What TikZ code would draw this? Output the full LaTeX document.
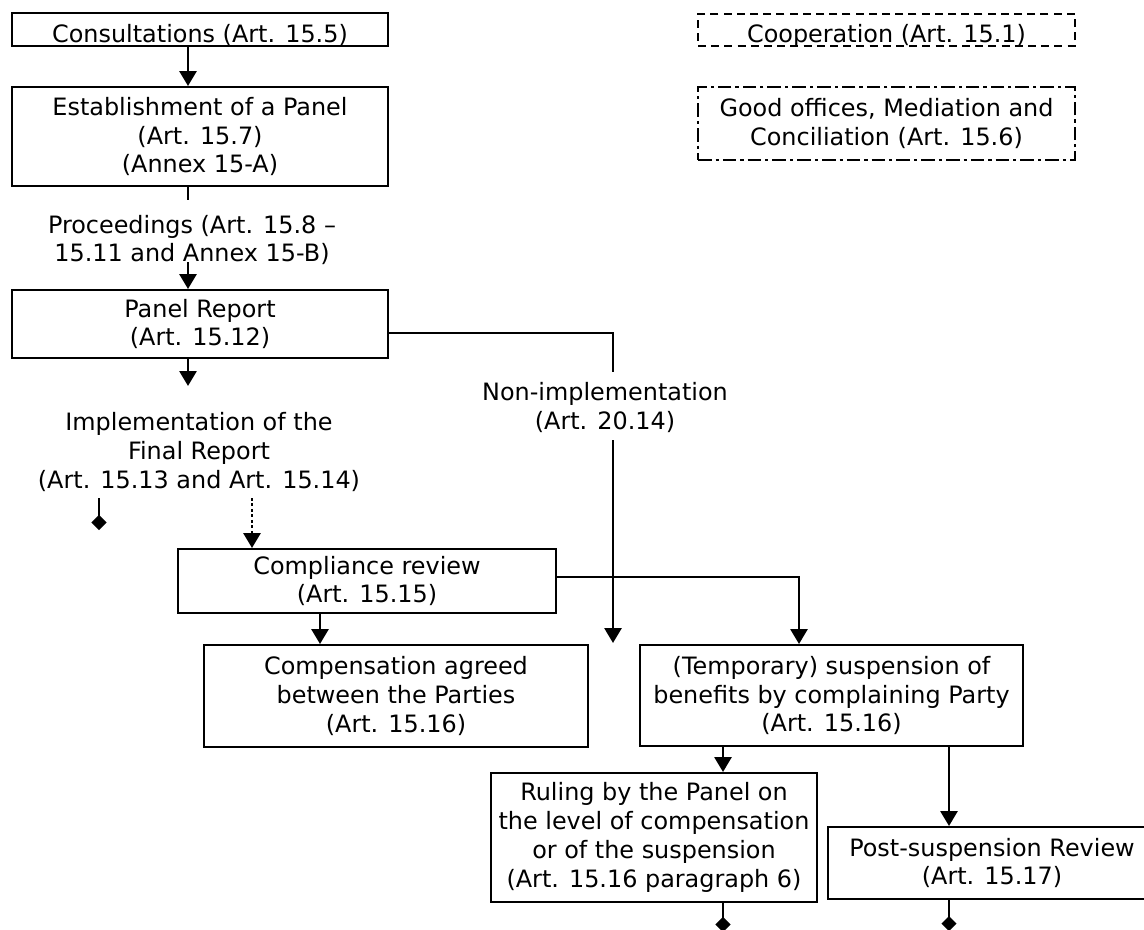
\documentclass[tikz,border=0pt]{standalone}
\usepackage{fontspec}
\setmainfont{DejaVu Sans}
\usetikzlibrary{arrows.meta}
\tikzset{>={Triangle[length=3.7mm,width=4.2mm]}}
\tikzset{
  every node/.style={font=\fontsize{17pt}{20.6pt}\selectfont},
  box/.style={draw, line width=1.4pt, align=center, inner sep=0pt},
  lbl/.style={align=center, inner sep=0pt},
  conn/.style={line width=1.9pt},
  endtip/.style={-{Diamond[length=3.8mm,width=3.8mm]}},
}

\begin{document}
\begin{tikzpicture}
      \useasboundingbox (0,0) rectangle (28.6,-23.225);

      % boxes
      \node[box, minimum width=9.4cm, text height=0.725cm, text depth=0.1cm] (consult) at (5.0,-0.7375) {Consultations (Art. 15.5)};
      \node[box, dash pattern=on 2mm off 1.3mm, minimum width=9.425cm, text height=0.7cm, text depth=0.1cm] (coop) at (22.1625,-0.75) {Cooperation (Art. 15.1)};
      \node[box, dash pattern=on 3.4mm off 1mm on 0.8mm off 1mm, minimum width=9.425cm, minimum height=1.825cm] (good) at (22.1625,-3.0875) {Good offices, Mediation and\\Conciliation (Art. 15.6)};
      \node[box, minimum width=9.4cm, minimum height=2.475cm] (estab) at (5.0,-3.4125) {Establishment of a Panel\\(Art. 15.7)\\(Annex 15-A)};
      \node[lbl] (proc) at (4.8,-6.0) {Proceedings (Art. 15.8 –\\15.11 and Annex 15-B)};
      \node[box, minimum width=9.4cm, minimum height=1.7cm] (panel) at (5.0,-8.1) {Panel Report\\(Art. 15.12)};
      \node[lbl] (impl) at (4.975,-11.3) {Implementation of the\\Final Report\\(Art. 15.13 and Art. 15.14)};
      \node[lbl] (nonimp) at (15.125,-10.1875) {Non-implementation\\(Art. 20.14)};
      \node[box, minimum width=9.45cm, minimum height=1.6cm] (compl) at (9.175,-14.525) {Compliance review\\(Art. 15.15)};
      \node[box, minimum width=9.6cm, minimum height=2.55cm] (compen) at (9.9,-17.4) {Compensation agreed\\between the Parties\\(Art. 15.16)};
      \node[box, minimum width=9.575cm, minimum height=2.525cm] (temp) at (20.7875,-17.3875) {(Temporary) suspension of\\benefits by complaining Party\\(Art. 15.16)};
      \node[box, minimum width=8.15cm, minimum height=3.225cm] (ruling) at (16.35,-20.9375) {Ruling by the Panel on\\the level of compensation\\or of the suspension\\(Art. 15.16 paragraph 6)};
      \node[box, minimum width=8.2cm, minimum height=1.8cm] (post) at (24.8,-21.575) {Post-suspension Review\\(Art. 15.17)};

      % columns and free ends
      \coordinate (ax) at (4.7,0);
      \coordinate (bx) at (8.0,0);
      \coordinate (cx) at (18.075,0);
      \coordinate (dx) at (23.725,0);
      \coordinate (procin) at (4.7,-5.0);
      \coordinate (procout) at (4.7,-6.55);
      \coordinate (implin) at (4.7,-9.65);
      \coordinate (impla) at (2.475,-12.45);
      \coordinate (implb) at (2.475,-13.25);
      \coordinate (implc) at (6.3,-12.45);
      \coordinate (nonbend) at (15.325,-8.325);
      \coordinate (nonin) at (15.325,-9.3);
      \coordinate (nonout) at (15.325,-11.0);
      \coordinate (nonend) at (15.325,-16.075);
      \coordinate (compbend) at (19.975,-14.425);
      \coordinate (rulend) at (18.075,-23.3);
      \coordinate (postend) at (23.725,-23.28);

      % connectors
      \draw[conn,->] (consult.south -| ax) -- (estab.north -| ax);
      \draw[conn] (estab.south -| ax) -- (procin);
      \draw[conn,->] (procout) -- (panel.north -| ax);
      \draw[conn,->] (panel.south -| ax) -- (implin);
      \draw[conn,endtip] (impla) -- (implb);
      \draw[conn,dotted,->] (implc) -- (compl.north -| implc);
      \draw[conn] (nonbend -| panel.east) -- (nonbend) -- (nonin);
      \draw[conn,->] (nonout) -- (nonend);
      \draw[conn,->] (compbend -| compl.east) -- (compbend) -- (temp.north -| compbend);
      \draw[conn,->] (compl.south -| bx) -- (compen.north -| bx);
      \draw[conn,->] (temp.south -| cx) -- (ruling.north -| cx);
      \draw[conn,->] (temp.south -| dx) -- (post.north -| dx);
      \draw[conn,endtip] (ruling.south -| cx) -- (rulend);
      \draw[conn,endtip] (post.south -| dx) -- (postend);

\end{tikzpicture}
\end{document}
